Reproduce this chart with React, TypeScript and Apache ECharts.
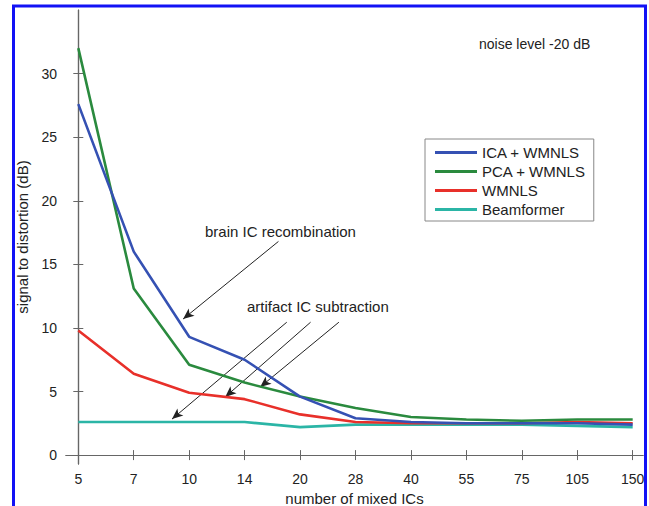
import React, { useEffect, useRef } from "react";
import * as echarts from "echarts";

const categories = ["5", "7", "10", "14", "20", "28", "40", "55", "75", "105", "150"];
const yTicks = [0, 5, 10, 15, 20, 25, 30];
const icaWmnls = [27.6, 16.0, 9.3, 7.5, 4.6, 2.9, 2.6, 2.5, 2.5, 2.5, 2.4];
const pcaWmnls = [32.0, 13.1, 7.1, 5.7, 4.6, 3.7, 3.0, 2.8, 2.7, 2.8, 2.8];
const wmnls = [9.8, 6.4, 4.9, 4.4, 3.2, 2.6, 2.5, 2.5, 2.5, 2.6, 2.5];
const beamformer = [2.6, 2.6, 2.6, 2.6, 2.2, 2.4, 2.4, 2.4, 2.4, 2.3, 2.2];

const seriesNames = ["ICA + WMNLS", "PCA + WMNLS", "WMNLS", "Beamformer"];
const seriesValues = [icaWmnls, pcaWmnls, wmnls, beamformer];
const seriesColors = ["#3551b3", "#2a8a3e", "#e8302a", "#2bb5a6"];

// arrows in data coordinates [xIndex, value]
const brainArrow = [[3.61, 16.8], [1.89, 10.7]];
const artifactArrows = [
  [[3.76, 10.45], [1.69, 2.83]],
  [[4.19, 10.45], [2.65, 4.57]],
  [[4.7, 10.45], [3.28, 5.35]],
];

const FONT = "'Liberation Sans', Arial, Helvetica, sans-serif";

export default function App() {
  const ref = useRef<HTMLDivElement>(null);
  useEffect(() => {
    if (!ref.current) return;
    const chart = echarts.init(ref.current, null, { renderer: "svg" });
    const idx = categories.map((_, i) => i);
    const axisLine = { show: true, lineStyle: { color: "#666", width: 1.2 } };
    const tick = { show: true, inside: true, length: 5, lineStyle: { color: "#666" } };
    const arrowLines = [brainArrow, ...artifactArrows].map((a) => [
      { coord: a[0] },
      { coord: a[1] },
    ]);
    const series: any[] = seriesNames.map((name, s) => ({
      name,
      type: "line",
      symbol: "none",
      data: seriesValues[s].map((v, i) => [i, v]),
      lineStyle: { color: seriesColors[s], width: 2.6 },
      itemStyle: { color: seriesColors[s] },
      z: 10 - s,
    }));
    series[0].markLine = {
      silent: true,
      symbol: ["none", "arrow"],
      symbolSize: [7, 11],
      label: { show: false },
      lineStyle: { color: "#222", width: 1, type: "solid" },
      data: arrowLines,
    };
    chart.setOption({
      animation: false,
      textStyle: { fontFamily: FONT },
      grid: { left: 66, right: 6, top: 10, bottom: 42, outerBoundsMode: "none", containLabel: false },
      legend: {
        data: seriesNames,
        orient: "vertical",
        left: 425,
        top: 139,
        padding: [6, 8, 4, 10],
        itemWidth: 42,
        itemHeight: 3,
        itemGap: 4,
        icon: "rect",
        borderColor: "#888",
        borderWidth: 1,
        backgroundColor: "#fff",
        textStyle: { fontSize: 15, color: "#222", fontFamily: FONT, lineHeight: 15 },
      },
      xAxis: [
        {
          type: "value",
          min: -0.222,
          max: 10.186,
          name: "number of mixed ICs",
          nameLocation: "middle",
          nameGap: 26,
          nameTextStyle: { fontSize: 15, color: "#222", lineHeight: 15 },
          axisLine,
          axisTick: { ...tick, customValues: idx },
          axisLabel: {
            customValues: idx,
            formatter: (v: number) => categories[Math.round(v)] ?? "",
            fontSize: 14,
            color: "#222",
            margin: 8,
          },
          splitLine: { show: false },
        },
        {
          type: "value",
          position: "top",
          min: -0.222,
          max: 10.186,
          axisLine,
          axisTick: { ...tick, customValues: idx },
          axisLabel: { show: false },
          splitLine: { show: false },
        },
      ],
      yAxis: [
        {
          type: "value",
          min: -0.7,
          max: 35,
          name: "signal to distortion (dB)",
          nameLocation: "middle",
          nameGap: 36,
          nameTextStyle: { fontSize: 15, color: "#222" },
          axisLine,
          axisTick: { ...tick, customValues: yTicks },
          axisLabel: { customValues: yTicks, fontSize: 14, color: "#222", margin: 9 },
          splitLine: { show: false },
        },
        {
          type: "value",
          position: "right",
          min: -0.7,
          max: 35,
          axisLine,
          axisTick: { ...tick, customValues: yTicks },
          axisLabel: { show: false },
          splitLine: { show: false },
        },
      ],
      graphic: [
        {
          type: "rect",
          shape: { x: 13.5, y: 6, width: 632, height: 540 },
          style: { fill: "none", stroke: "#1212f5", lineWidth: 3 },
          z: 100,
          silent: true,
        },
        {
          type: "text",
          x: 479,
          y: 44,
          style: { text: "noise level -20 dB", fontSize: 14, fill: "#222", fontFamily: FONT, verticalAlign: "middle" },
        },
        {
          type: "text",
          x: 205,
          y: 231,
          style: { text: "brain IC recombination", fontSize: 15, fill: "#222", fontFamily: FONT, verticalAlign: "middle" },
        },
        {
          type: "text",
          x: 247,
          y: 306,
          style: { text: "artifact IC subtraction", fontSize: 15, fill: "#222", fontFamily: FONT, verticalAlign: "middle" },
        },
      ],
      series,
    });
    return () => chart.dispose();
  }, []);
  return (
    <div
      ref={ref}
      style={{ position: "fixed", left: 0, top: 0, width: 649, height: 506, background: "#fff" }}
    />
  );
}
